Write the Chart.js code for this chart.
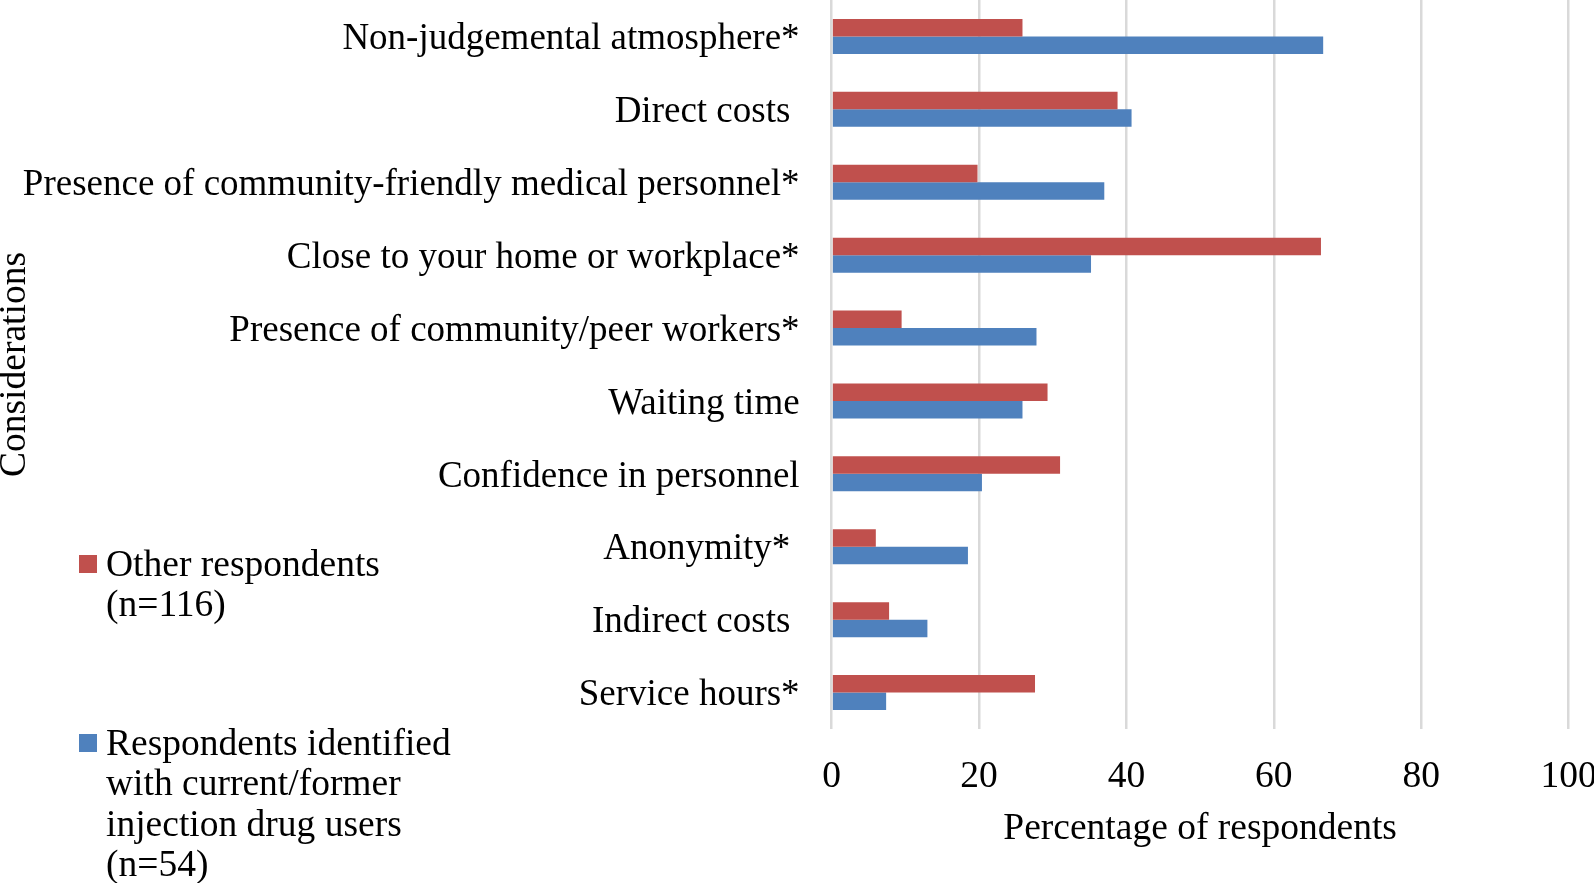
<!DOCTYPE html>
<html lang="en">
<head>
    <meta charset="UTF-8">
    <title>Considerations when choosing a service</title>
    <script src="https://cdn.jsdelivr.net/npm/chart.js"></script>
    <style>
        body {
            margin: 0;
            background-color: #fff;
            overflow: hidden;
        }

        .wrap {
            position: relative;
            width: 1594px;
            height: 883px;
        }
    </style>
</head>
<body>
    <div class="wrap">
        <canvas id="myChart"></canvas>
    </div>

    <script>
        // Categories, top to bottom
        const considerations = [
            'Non-judgemental atmosphere*',
            'Direct costs ',
            'Presence of community-friendly medical personnel*',
            'Close to your home or workplace*',
            'Presence of community/peer workers*',
            'Waiting time',
            'Confidence in personnel',
            'Anonymity* ',
            'Indirect costs ',
            'Service hours*'
        ];

        // Percentages
        const otherRespondents = [25.9, 38.8, 19.8, 66.4, 9.5, 29.3, 31.0, 6.0, 7.8, 27.6];
        const idusRespondents = [66.7, 40.7, 37.0, 35.2, 27.8, 25.9, 20.4, 18.5, 13.0, 7.4];

        // Legend text, one entry per line
        const otherLabel = ['Other respondents', '(n=116)'];
        const idusLabel = ['Respondents identified', 'with current/former', 'injection drug users', '(n=54)'];

        const xTicks = [0, 20, 40, 60, 80, 100];

        const FONT = '"Liberation Serif", serif';
        const RED = '#C0504D';
        const BLUE = '#4F81BD';

        // Legend drawn on the left, below the axis title
        const sideLegend = {
            id: 'sideLegend',
            afterDraw(chart) {
                const c = chart.ctx;
                const boxes = [
                    { lines: otherLabel, color: RED, top: 555 },
                    { lines: idusLabel, color: BLUE, top: 734 }
                ];
                c.save();
                c.font = '37.5px ' + FONT;
                c.textBaseline = 'middle';
                boxes.forEach(b => {
                    c.fillStyle = b.color;
                    c.fillRect(79, b.top, 18, 18);
                    c.fillStyle = '#000';
                    b.lines.forEach((line, i) => {
                        c.fillText(line, 106, b.top + 11 + i * 40.5);
                    });
                });
                c.restore();
            }
        };

        const ctx = document.getElementById('myChart').getContext('2d');
        const chart = new Chart(ctx, {
            type: 'bar',
            data: {
                labels: considerations,
                datasets: [{
                    label: otherLabel.join(' '),
                    data: otherRespondents,
                    backgroundColor: RED,
                    barPercentage: 1,
                    categoryPercentage: 0.48
                }, {
                    label: idusLabel.join(' '),
                    data: idusRespondents,
                    backgroundColor: BLUE,
                    barPercentage: 1,
                    categoryPercentage: 0.48
                }]
            },
            options: {
                indexAxis: 'y',
                responsive: true,
                maintainAspectRatio: false,
                animation: false,
                layout: {
                    padding: { top: 0, right: 0, bottom: 31, left: 0 }
                },
                plugins: {
                    legend: { display: false },
                    tooltip: { enabled: false }
                },
                scales: {
                    x: {
                        min: 0,
                        max: 100,
                        afterBuildTicks: axis => {
                            axis.ticks = xTicks.map(v => ({ value: v }));
                        },
                        afterFit: axis => {
                            axis.height = 123;
                            axis.paddingLeft = 0;
                            axis.paddingRight = 25.4;
                        },
                        grid: {
                            color: '#D9D9D9',
                            lineWidth: 2.5,
                            drawTicks: false
                        },
                        border: { display: false },
                        ticks: {
                            color: '#000',
                            padding: 26,
                            font: { family: FONT, size: 37.5 }
                        },
                        title: {
                            display: true,
                            text: 'Percentage of respondents',
                            color: '#000',
                            padding: 0,
                            font: { family: FONT, size: 37.5 }
                        }
                    },
                    y: {
                        afterFit: axis => {
                            axis.width = 831.6;
                            axis.paddingTop = 0;
                            axis.paddingBottom = 0;
                        },
                        grid: { display: false, drawTicks: false },
                        border: { display: false },
                        ticks: {
                            color: '#000',
                            padding: 32,
                            labelOffset: 3,
                            font: { family: FONT, size: 37 }
                        },
                        title: {
                            display: true,
                            text: 'Considerations',
                            color: '#000',
                            padding: 0,
                            font: { family: FONT, size: 37.5, lineHeight: 0.8 }
                        }
                    }
                }
            },
            plugins: [sideLegend]
        });
    </script>
</body>
</html>
